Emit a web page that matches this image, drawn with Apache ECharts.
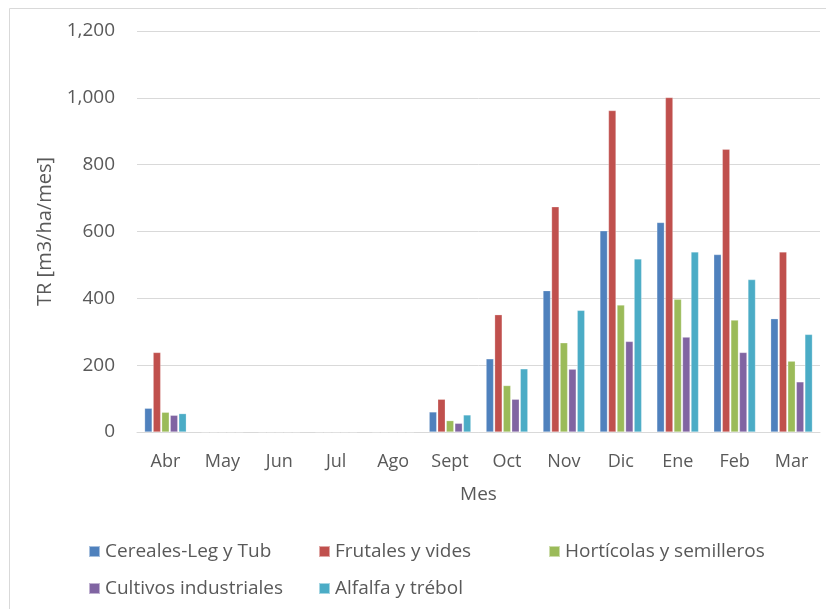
<!DOCTYPE html>
<html>
<head>
<meta charset="utf-8">
<script src="https://cdn.jsdelivr.net/npm/echarts@6/dist/echarts.min.js"></script>
<style>
  html, body {margin: 0; padding: 0; background: #fff;}
  #Bar {width: 826px; height: 609px;}
</style>
</head>
<body>
<div id="Bar"></div>
<script>
  // datos
  var meses = ['Abr', 'May', 'Jun', 'Jul', 'Ago', 'Sept', 'Oct', 'Nov', 'Dic', 'Ene', 'Feb', 'Mar']
  var cereales = [71, 0, 0, 0, 0, 60, 219, 423, 602, 627, 531, 339]
  var frutales = [238, 0, 0, 0, 0, 98, 351, 674, 962, 1001, 846, 539]
  var horticolas = [59, 0, 0, 0, 0, 34, 139, 267, 380, 397, 335, 212]
  var industriales = [50, 0, 0, 0, 0, 26, 98, 188, 271, 284, 238, 150]
  var alfalfa = [55, 0, 0, 0, 0, 51, 189, 364, 518, 539, 456, 292]
  var yTicks = [0, 200, 400, 600, 800, 1000, 1200]

  var nombres = ['Cereales-Leg y Tub', 'Frutales y vides', 'Hortícolas y semilleros', 'Cultivos industriales', 'Alfalfa y trébol']
  var colores = ['#4f81bd', '#c0504d', '#9bbb59', '#8064a2', '#4bacc6']
  var valores = [cereales, frutales, horticolas, industriales, alfalfa]

  var font = '"Open Sans", "Noto Sans", sans-serif'
  var legendBase = {
    orient: 'vertical',
    top: 537,
    itemWidth: 11,
    itemHeight: 11,
    itemGap: 18,
    icon: 'rect',
    textStyle: {fontSize: 19, color: '#595959', fontFamily: font}
  }

  var myBar = echarts.init(document.getElementById('Bar'))
  myBar.setOption({
    animation: false,
    backgroundColor: '#fff',
    color: colores,
    graphic: [{
      type: 'rect',
      shape: {x: 9.5, y: 8.5, width: 830, height: 620},
      style: {fill: null, stroke: '#d9d9d9', lineWidth: 1}
    }],
    legend: [
      Object.assign({left: 83, data: [nombres[0], nombres[3]]}, legendBase),
      Object.assign({left: 313, data: [nombres[1], nombres[4]]}, legendBase),
      Object.assign({left: 543, data: [nombres[2]]}, legendBase)
    ],
    grid: {
      left: 137,
      right: 6,
      top: 31,
      bottom: 177
    },
    xAxis: {
      type: 'category',
      data: meses,
      name: 'Mes',
      nameLocation: 'middle',
      nameGap: 53,
      nameTextStyle: {fontSize: 19, color: '#595959', fontFamily: font},
      axisTick: {show: false},
      axisLine: {lineStyle: {color: '#d9d9d9'}},
      axisLabel: {fontSize: 18, color: '#595959', fontFamily: font, margin: 21}
    },
    yAxis: {
      type: 'value',
      min: yTicks[0],
      max: yTicks[yTicks.length - 1],
      interval: 200,
      name: 'TR [m3/ha/mes]',
      nameLocation: 'middle',
      nameGap: 79,
      nameTextStyle: {fontSize: 20, color: '#595959', fontFamily: font},
      axisLine: {show: false},
      axisTick: {show: false},
      splitLine: {lineStyle: {color: '#d9d9d9'}},
      axisLabel: {
        fontSize: 19,
        color: '#595959',
        fontFamily: font,
        margin: 22,
        formatter: function (v) { return v.toLocaleString('en-US') }
      }
    },
    series: valores.map(function (d, i) {
      return {
        name: nombres[i],
        type: 'bar',
        data: d,
        barWidth: 7.5,
        barGap: '14%',
        itemStyle: {borderColor: 'rgba(255,255,255,0.5)', borderWidth: 0.5}
      }
    })
  })
</script>
</body>
</html>
